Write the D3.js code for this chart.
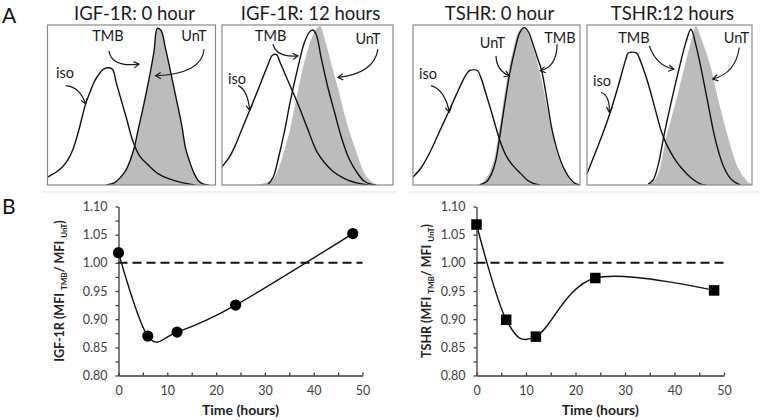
<!DOCTYPE html>
<html><head><meta charset="utf-8">
<script src="https://cdn.jsdelivr.net/npm/d3@7/dist/d3.min.js"></script>
<style>body{margin:0;background:#fff}svg{display:block}</style>
</head><body>
<svg id="c" width="762" height="420"></svg>
<script>
// ---------- Panel A data (histograms: [channel %, count % of max]) ----------
const panelTitles = ["IGF-1R: 0 hour", "IGF-1R: 12 hours", "TSHR: 0 hour", "TSHR:12 hours"];

const iso_igf0  = [[0,5],[5,8],[9,11.5],[12,15.6],[15,22],[18.5,34],[22.7,51],[25.5,59],[27.7,64.6],[30.5,69.5],[33.6,73],[38.4,73],[41,64],[44,53],[47,42],[51,27],[55,18],[60,12.5],[66,7],[72,4],[80,1.5],[88,0]];
const tmb_igf0  = [[35,0],[40,1.5],[43.6,5],[47,10],[51.5,23],[54,35],[57.4,51],[60.5,67],[63.4,84],[65.4,98.5],[67.7,97],[70,87],[72.3,76],[74.5,65],[77.3,51],[80,37],[82,24],[84.5,15],[87.2,7.5],[90,2.5],[93,0.5],[96,0]];
const unt_igf0  = [[35,0],[40,1.5],[43.6,5],[47,10],[51.5,23],[54,35],[57.4,51],[60.5,67],[63.4,84],[65.4,98.5],[67.7,97],[70,87],[72.3,76],[74.5,65],[77.3,51],[80,37],[82,24],[84.5,15],[87.2,7.5],[90,2.5],[93,0.5],[96,0]];

const iso_igf12 = [[0,11.5],[4,17],[7.4,24],[12,36],[16.2,47],[20,57],[24,68],[27,76],[29,81],[30,82],[32,82],[34,77],[38,67],[44.4,51],[50,35.5],[53,27],[56,20],[60,14],[65,8.5],[70,5],[75,2.5],[80,1],[86,0]];
const tmb_igf12 = [[27,0.5],[30,5],[33,17],[36.6,34],[40,53],[44.4,74],[48,89],[51,96],[53,97.5],[55,95],[58,80],[62,61],[66,45],[69.8,30],[74.5,16],[79.5,7],[83,2.5],[87,0.5],[90,0]];
const unt_igf12 = [[17,0],[24,1],[30,4],[34,13],[37,24],[39.6,34],[43,52],[47.4,74],[51,88],[54,96],[57.3,100],[60,92],[64,76],[67.8,61],[71.5,45],[75.6,30],[79.5,18],[83.4,7],[86.5,3],[89,1],[92,0]];

const iso_tshr0 = [[0,5],[5,11],[10.8,22],[16,34],[21.8,47],[26,57],[30,66],[32.5,70.5],[34,72],[38.5,72],[40.5,68],[43.5,58],[46.7,47],[49.7,36],[52.7,26],[56,18],[60,12],[64.7,7],[68,3.5],[72,1],[76,0]];
const tmb_tshr0 = [[40,0],[44,2],[47,7],[49.5,15],[51.6,28],[54.5,48],[57.7,69],[61,85],[64,96],[66.6,99],[69,96.5],[72,88],[74.5,80],[77,72],[80,55],[83,36],[86,23],[88.5,15],[91,9],[94,4],[97,1],[100,0]];
const unt_tshr0 = [[38,0],[42,2],[45.5,7],[48.5,16],[50.6,28],[53.5,48],[56.7,69],[60,85],[63,96],[66,99],[68.5,96],[71,89],[74,79],[77,66],[80,50],[83,34],[86,21],[89,12],[92,6],[95,2],[98,0]];

const iso_tshr12 = [[0,7],[3,15],[6.5,24],[10.5,35],[14.5,47],[18,59],[21,70],[23.5,79],[25,83],[30,83],[32,79],[34.5,72],[37,64],[41,49],[45,34],[48,26],[51,20],[54,15],[57,11],[61,6.5],[65,3],[69,0.5],[72,0]];
const tmb_tshr12 = [[37,0.5],[40,3],[43,12],[46.8,32],[51,52],[56,74],[60,90],[63,98],[66,88],[69,74],[73,53],[77,32],[80,20],[83,11],[87,4],[90,1.5],[93,0]];
const unt_tshr12 = [[38,0.5],[41,3],[44,10],[48,30],[50,38],[54,53],[59,74],[63,90],[66,100],[69,93],[72,84],[75,74],[79.5,54],[85,32],[88,21],[91,12],[95,5],[98,1.5],[100,0.5]];

// annotation labels [text, x, y] and arrows [tail, control, head] in histogram units
const labels_igf0  = [["iso",10.4,67.5],["TMB",36,90.6],["UnT",87.2,90.6]];
const labels_igf12 = [["iso",8.8,63.7],["TMB",28.4,90.6],["UnT",85.4,88.7]];
const labels_tshr0 = [["iso",9,66.9],["UnT",47.6,86.2],["TMB",88,89.4]];
const labels_tshr12= [["iso",9.1,62.5],["TMB",28.5,89.4],["UnT",90.6,89.4]];
const arrows_igf0  = [[[36.6,84.4],[38,74],[54.5,76]],[[93.2,85.4],[92,70],[64.4,68.7]],[[10.8,62.5],[19,62],[22.7,51]]];
const arrows_igf12 = [[[29.8,88.5],[32,80],[44.4,81.2]],[[91.2,85.4],[89,70],[67.8,67.7]],[[9.4,62.5],[15,60],[16.2,46.9]]];
const arrows_tshr0 = [[[49.7,81.2],[50,72],[57.7,68.7]],[[86.3,88.5],[86,74],[76.2,71.9]],[[10.8,62.5],[19,60],[21.8,45.8]]];
const arrows_tshr12= [[[37.8,87.5],[42,75],[52.6,72.9]],[[92.3,86.5],[90,70],[76.2,66.7]],[[8.5,58.3],[14,56],[13.5,45.8]]];

// ---------- Panel B data ----------
const timeHours   = [0, 6, 12, 24, 48];
const igf1rRatio  = [1.018, 0.870, 0.877, 0.925, 1.052];
const tshrRatio   = [1.068, 0.899, 0.869, 0.973, 0.951];
const refLevel    = 1.00;
const yTickValues = [0.80,0.825,0.85,0.875,0.90,0.925,0.95,0.975,1.00,1.025,1.05,1.075,1.10];
const yTickLabels = [0.80,0.85,0.90,0.95,1.00,1.05,1.10];
const xTickValues = [0,5,10,15,20,25,30,35,40,45,50];
const xTickLabels = [0,10,20,30,40,50];

// ---------- drawing ----------
const svg = d3.select("#c");
const FONT = "Lato, 'Open Sans', sans-serif";

svg.append("text").attr("x", 2).attr("y", 23).attr("font-family", FONT)
  .attr("font-size", 21).attr("fill", "#111").text("A");
svg.append("text").attr("x", 2).attr("y", 214).attr("font-family", FONT)
  .attr("font-size", 21).attr("fill", "#111").text("B");

svg.append("line").attr("x1", 42).attr("x2", 396).attr("y1", 192).attr("y2", 192).attr("stroke", "#ececec").attr("stroke-width", 1.5);
svg.append("line").attr("x1", 409).attr("x2", 760).attr("y1", 192).attr("y2", 192).attr("stroke", "#ececec").attr("stroke-width", 1.5);

const panels = [
  {title: panelTitles[0], iso: iso_igf0,  tmb: tmb_igf0,  unt: unt_igf0,  labels: labels_igf0,  arrows: arrows_igf0,  x0: 47.5, x1: 215.5},
  {title: panelTitles[1], iso: iso_igf12, tmb: tmb_igf12, unt: unt_igf12, labels: labels_igf12, arrows: arrows_igf12, x0: 222,  x1: 393},
  {title: panelTitles[2], iso: iso_tshr0, tmb: tmb_tshr0, unt: unt_tshr0, labels: labels_tshr0, arrows: arrows_tshr0, x0: 413,  x1: 580},
  {title: panelTitles[3], iso: iso_tshr12,tmb: tmb_tshr12,unt: unt_tshr12,labels: labels_tshr12,arrows: arrows_tshr12,x0: 587,  x1: 752}
];
const pTop = 25, pBot = 185;
const histCurve = d3.curveCatmullRom.alpha(0.5);

panels.forEach((p, i) => {
  const x = d3.scaleLinear().domain([0, 100]).range([p.x0, p.x1]);
  const y = d3.scaleLinear().domain([0, 100]).range([pBot, pTop + 1]);
  const g = svg.append("g");
  const clipId = "clip" + i;
  svg.append("clipPath").attr("id", clipId).append("rect")
    .attr("x", p.x0).attr("y", pTop).attr("width", p.x1 - p.x0).attr("height", pBot - pTop);
  const inner = g.append("g").attr("clip-path", `url(#${clipId})`);
  const area = d3.area().x(d => x(d[0])).y0(y(0)).y1(d => y(d[1])).curve(histCurve);
  const line = d3.line().x(d => x(d[0])).y(d => y(d[1])).curve(histCurve);
  inner.append("path").attr("d", area(p.unt)).attr("fill", "#bcbcbc");
  inner.append("path").attr("d", line(p.tmb)).attr("fill", "none").attr("stroke", "#111").attr("stroke-width", 1.4);
  inner.append("path").attr("d", line(p.iso)).attr("fill", "none").attr("stroke", "#111").attr("stroke-width", 1.4);
  g.append("rect").attr("x", p.x0).attr("y", pTop).attr("width", p.x1 - p.x0).attr("height", pBot - pTop)
    .attr("fill", "none").attr("stroke", "#8a8a8a").attr("stroke-width", 1.2);
  g.append("text").attr("x", (p.x0 + p.x1) / 2 + 3).attr("y", 20).attr("text-anchor", "middle")
    .attr("font-family", FONT).attr("font-size", 18.5).attr("fill", "#1a1a1a").text(p.title);
  p.labels.forEach(l => {
    g.append("text").attr("x", x(l[1])).attr("y", y(l[2])).attr("text-anchor", "middle")
      .attr("font-family", FONT).attr("font-size", 14.5).attr("fill", "#1a1a1a").text(l[0]);
  });
  p.arrows.forEach(a => {
    const t = [x(a[0][0]), y(a[0][1])], c = [x(a[1][0]), y(a[1][1])], h = [x(a[2][0]), y(a[2][1])];
    g.append("path").attr("d", `M${t[0]},${t[1]} Q${c[0]},${c[1]} ${h[0]},${h[1]}`)
      .attr("fill", "none").attr("stroke", "#1a1a1a").attr("stroke-width", 1.2);
    const ang = Math.atan2(h[1] - c[1], h[0] - c[0]);
    const L = 6, w = 0.55;
    const pA = [h[0] - L * Math.cos(ang - w), h[1] - L * Math.sin(ang - w)];
    const pB = [h[0] - L * Math.cos(ang + w), h[1] - L * Math.sin(ang + w)];
    g.append("path").attr("d", `M${pA[0]},${pA[1]} L${h[0]},${h[1]} L${pB[0]},${pB[1]}`)
      .attr("fill", "none").attr("stroke", "#1a1a1a").attr("stroke-width", 1.2);
  });
});

// ---------- Panel B charts ----------
const charts = [
  {values: igf1rRatio, marker: "circle", name: "IGF-1R", xr: [118.5, 362.5], labelX: 64},
  {values: tshrRatio,  marker: "square", name: "TSHR",   xr: [476.5, 724],   labelX: 431}
];
const yRange = [375.5, 206.5];

charts.forEach(ch => {
  const x = d3.scaleLinear().domain([0, 50]).range(ch.xr);
  const y = d3.scaleLinear().domain([0.80, 1.10]).range(yRange);
  const g = svg.append("g");

  const xAxis = d3.axisBottom(x).tickValues(xTickValues).tickSize(-3).tickSizeOuter(0).tickPadding(11)
    .tickFormat(d => xTickLabels.includes(d) ? String(d) : "");
  const gx = g.append("g").attr("transform", `translate(0,${y(0.80)})`).call(xAxis);
  const yAxis = d3.axisLeft(y).tickValues(yTickValues).tickSize(3).tickSizeOuter(0).tickPadding(8)
    .tickFormat(d => yTickLabels.some(v => Math.abs(v - d) < 1e-9) ? d.toFixed(2) : "");
  const gy = g.append("g").attr("transform", `translate(${x(0)},0)`).call(yAxis);
  [gx, gy].forEach(a => {
    a.selectAll("path,line").attr("stroke", "#3a3a3a").attr("stroke-width", 1.3);
    a.selectAll("text").attr("font-family", FONT).attr("font-size", 12.5).attr("fill", "#404040");
  });

  g.append("line").attr("x1", x(0)).attr("x2", x(50)).attr("y1", y(refLevel)).attr("y2", y(refLevel))
    .attr("stroke", "#111").attr("stroke-width", 2).attr("stroke-dasharray", "9,5");

  const pts = timeHours.map((t, i) => [t, ch.values[i]]);
  const line = d3.line().x(d => x(d[0])).y(d => y(d[1])).curve(d3.curveCardinal.tension(0));
  g.append("path").attr("d", line(pts)).attr("fill", "none").attr("stroke", "#111").attr("stroke-width", 1.4);

  if (ch.marker === "circle") {
    g.selectAll("circle.m").data(pts).enter().append("circle").attr("class", "m")
      .attr("cx", d => x(d[0])).attr("cy", d => y(d[1])).attr("r", 5.6).attr("fill", "#000");
  } else {
    const s = 10.5;
    g.selectAll("rect.m").data(pts).enter().append("rect").attr("class", "m")
      .attr("x", d => x(d[0]) - s / 2).attr("y", d => y(d[1]) - s / 2).attr("width", s).attr("height", s)
      .attr("fill", "#000");
  }

  g.append("text").attr("x", (ch.xr[0] + ch.xr[1]) / 2).attr("y", 415).attr("text-anchor", "middle")
    .attr("font-family", FONT).attr("font-weight", "bold").attr("font-size", 14).attr("fill", "#222")
    .text("Time (hours)");
  const yl = g.append("text").attr("transform", `translate(${ch.labelX},291) rotate(-90)`)
    .attr("text-anchor", "middle").attr("font-family", FONT).attr("font-weight", "bold")
    .attr("font-size", 12.5).attr("fill", "#222");
  yl.append("tspan").text(ch.name + " (MFI ");
  yl.append("tspan").attr("font-size", 8).attr("dy", 3).text("TMB");
  yl.append("tspan").attr("dy", -3).text("/ MFI ");
  yl.append("tspan").attr("font-size", 8).attr("dy", 3).text("UnT");
  yl.append("tspan").attr("dy", -3).text(")");
});
</script>
</body></html>
